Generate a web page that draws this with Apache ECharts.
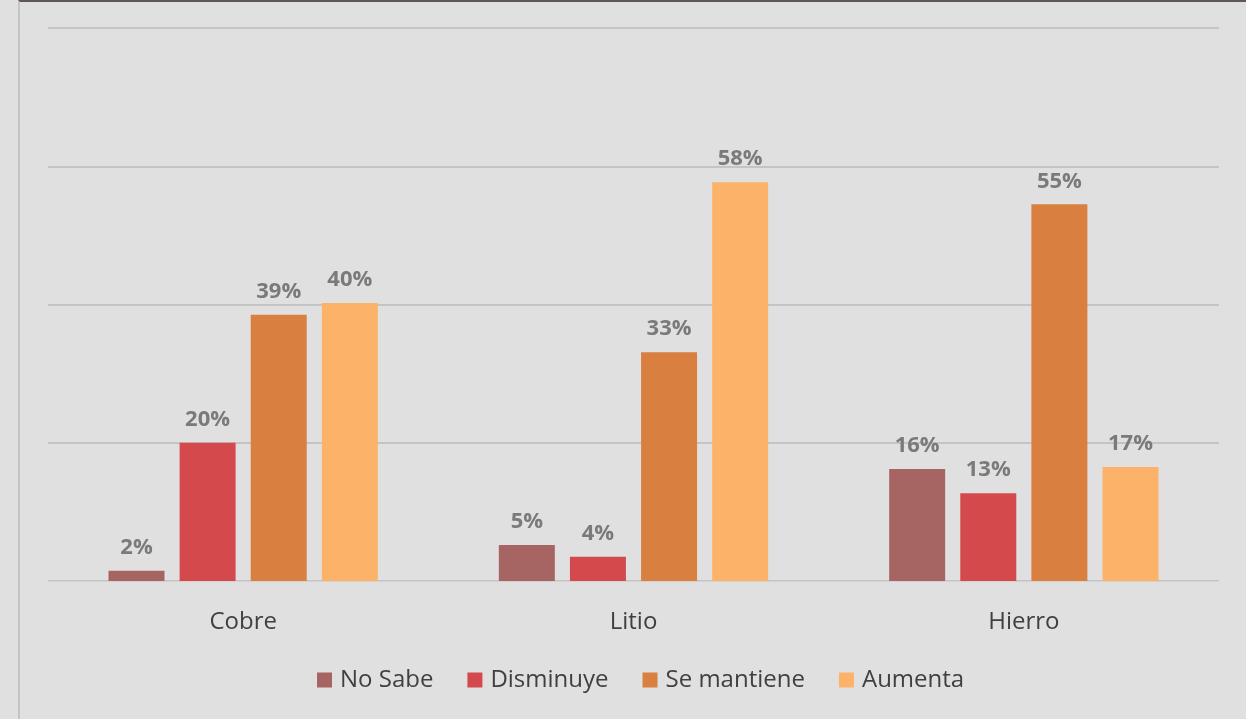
<!DOCTYPE html>
<html><head><meta charset="utf-8">
<script src="https://cdn.jsdelivr.net/npm/echarts@6/dist/echarts.min.js"></script>
<style>
html,body{margin:0;padding:0;background:#e0e0e0;}
#c{position:absolute;left:0;top:0;width:1246px;height:719px;}
#frame{position:absolute;left:18px;top:0;width:1228px;height:719px;border-left:2px solid #c4c4c4;border-top:2px solid #5e5658;box-sizing:border-box;pointer-events:none;}
</style></head>
<body>
<div id="c"></div>
<div id="frame"></div>
<script>
const categories = ['Cobre', 'Litio', 'Hierro'];
const noSabe = [1.5, 5.2, 16.2];
const disminuye = [20, 3.5, 12.7];
const seMantiene = [38.5, 33.1, 54.5];
const aumenta = [40.2, 57.7, 16.5];
const labelsNoSabe = ['2%', '5%', '16%'];
const labelsDisminuye = ['20%', '4%', '13%'];
const labelsSeMantiene = ['39%', '33%', '55%'];
const labelsAumenta = ['40%', '58%', '17%'];

const chart = echarts.init(document.getElementById('c'));
function mk(name, data, labels, color) {
  return {
    name, type: 'bar', data,
    barGap: '27%', barCategoryGap: '31%',
    itemStyle: { color },
    label: {
      show: true, position: 'top', distance: 12,
      color: '#7a7a7a', fontWeight: 'bold', fontSize: 22,
      fontFamily: 'Open Sans',
      formatter: p => labels[p.dataIndex]
    }
  };
}
chart.setOption({
  backgroundColor: '#e0e0e0',
  animation: false,
  grid: { left: 48, right: 27, top: 28, bottom: 138 },
  legend: {
    bottom: 22, left: 312, itemWidth: 15, itemHeight: 15, itemGap: 34,
    icon: 'rect',
    textStyle: { color: '#404040', fontSize: 24, fontFamily: 'Open Sans', padding: [0, 0, 0, 3] }
  },
  xAxis: {
    type: 'category', data: categories,
    axisLine: { show: true, lineStyle: { color: '#d2d2d2', width: 1 } },
    axisTick: { show: false },
    axisLabel: { color: '#404040', fontSize: 24, margin: 29, fontFamily: 'Open Sans' }
  },
  yAxis: {
    type: 'value', min: 0, max: 80, interval: 20,
    axisLabel: { show: false },
    axisLine: { show: false }, axisTick: { show: false },
    splitLine: { lineStyle: { color: '#c4c4c4', width: 2 } }
  },
  series: [
    mk('No Sabe', noSabe, labelsNoSabe, '#a66563'),
    mk('Disminuye', disminuye, labelsDisminuye, '#d44a4c'),
    mk('Se mantiene', seMantiene, labelsSeMantiene, '#d97f3f'),
    mk('Aumenta', aumenta, labelsAumenta, '#fdb26a')
  ]
});
</script>
</body></html>
